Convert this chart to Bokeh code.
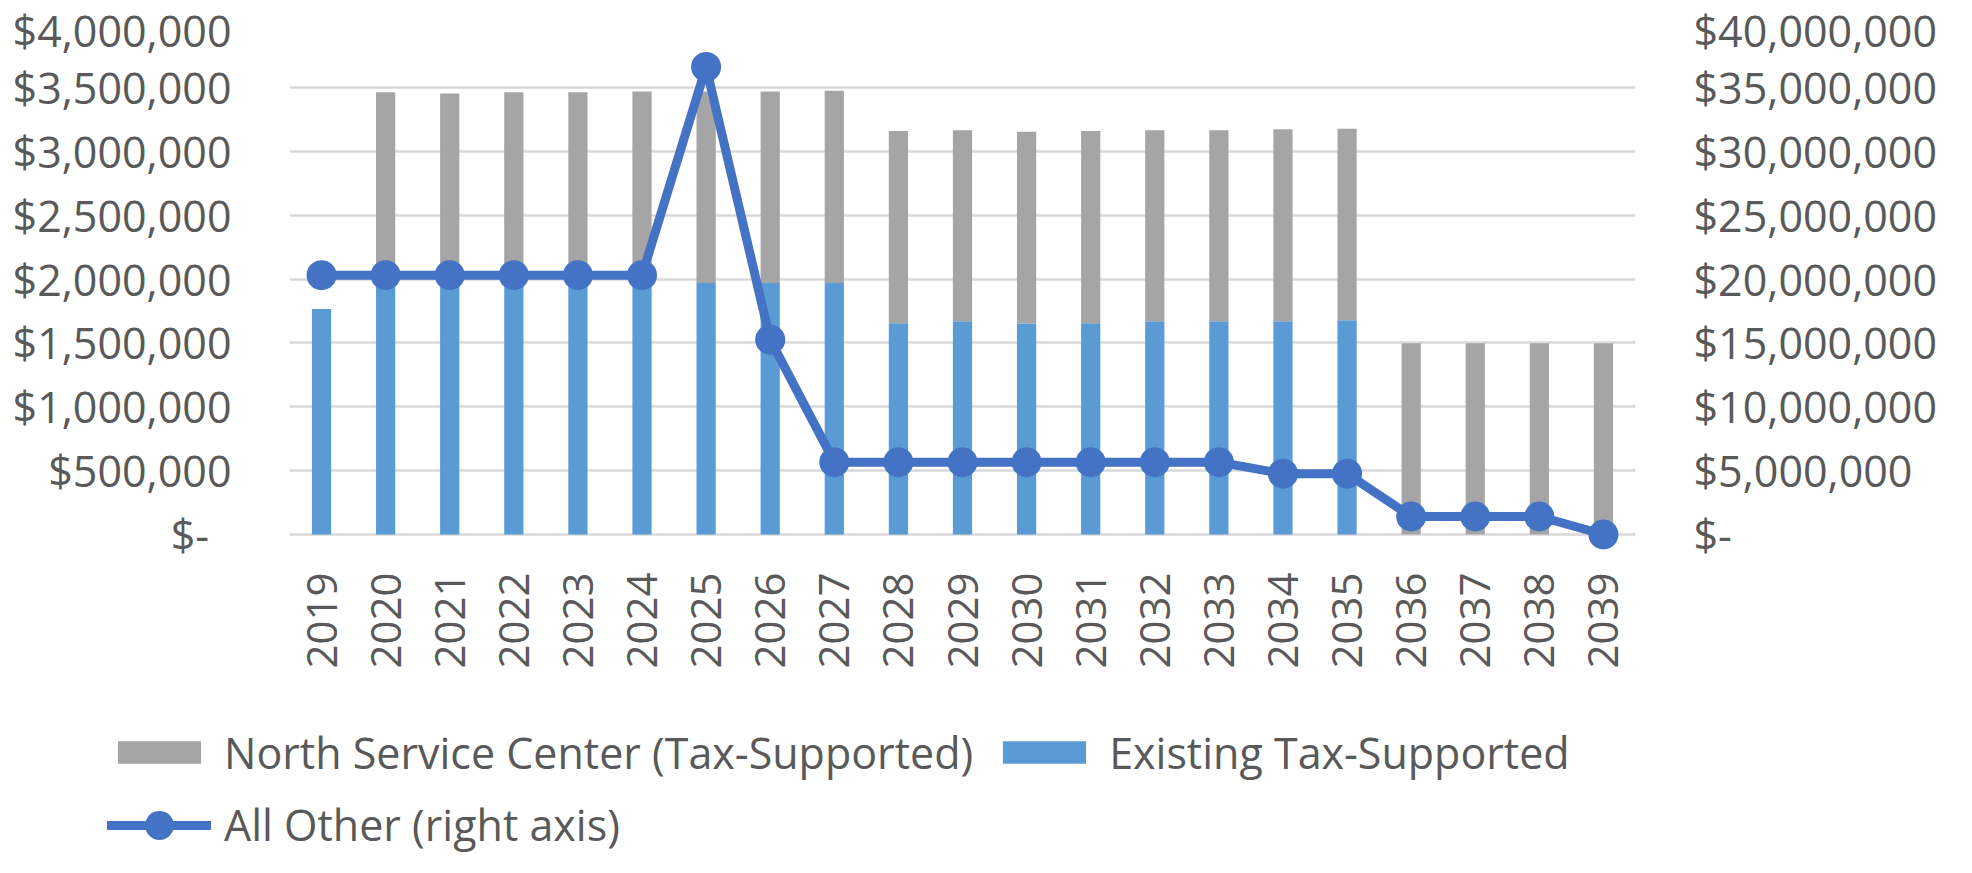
from bokeh.plotting import figure
from bokeh.models import (Range1d, LinearAxis, FixedTicker, CustomJSTickFormatter,
                          Legend, LegendItem, ColumnDataSource)
from bokeh.layouts import column
from bokeh.embed import file_html
from bokeh.resources import INLINE
import math

years = [str(y) for y in range(2019, 2040)]
existing = [1765000, 1968000, 1968000, 1968000, 1968000, 1968000, 1968000, 1968000, 1968000,
            1654000, 1669000, 1651000, 1654000, 1669000, 1669000, 1669000, 1678000,
            0, 0, 0, 0]
north_service = [0, 1493000, 1484000, 1493000, 1493000, 1499000, 1499000, 1499000, 1505000,
                 1504000, 1495000, 1501000, 1504000, 1495000, 1495000, 1504000, 1498000,
                 1498000, 1498000, 1498000, 1498000]
all_other = [20300000, 20300000, 20300000, 20300000, 20300000, 20300000, 36600000, 15250000,
             5660000, 5660000, 5660000, 5660000, 5660000, 5660000, 5660000, 4760000, 4760000,
             1410000, 1410000, 1410000, 0]
left_ticks = [0, 500000, 1000000, 1500000, 2000000, 2500000, 3000000, 3500000, 4000000]
right_ticks = [0, 5000000, 10000000, 15000000, 20000000, 25000000, 30000000, 35000000, 40000000]
labels = ["North Service Center (Tax-Supported)", "Existing Tax-Supported", "All Other (right axis)"]

FONT = "Open Sans"
TXT = "#595959"
FS = "43px"
BLUE_BAR = "#5B9BD5"
GRAY_BAR = "#A5A5A5"
LINE_C = "#4472C4"

src = ColumnDataSource(dict(year=years, existing=existing, north=north_service, other=all_other))

ext_px = 18
frame_h = 511 + ext_px
p = figure(x_range=years, y_range=Range1d(-ext_px * 4000000 / 511, 4000000),
           frame_width=1346, frame_height=frame_h,
           min_border_left=289, min_border_right=321, min_border_top=23, min_border_bottom=140,
           output_backend="svg", toolbar_location=None, background_fill_color="white",
           border_fill_color="white")
p.outline_line_color = None
p.extra_y_ranges = {"right": Range1d(-ext_px * 40000000 / 511, 40000000)}

bars = p.vbar_stack(["existing", "north"], x="year", width=0.30, source=src,
                    color=[BLUE_BAR, GRAY_BAR], line_color=None)
line_r = p.line("year", "other", source=src, y_range_name="right", color=LINE_C,
                line_width=9, line_join="round", line_cap="round")
mark_r = p.scatter("year", "other", source=src, y_range_name="right", size=30,
                   color=LINE_C, line_color=None)

# axes
p.yaxis.ticker = FixedTicker(ticks=left_ticks)
p.yaxis.formatter = CustomJSTickFormatter(code="""
if (tick == 0) { return "$-\u00a0\u00a0"; }
return "$" + Math.round(tick).toLocaleString("en-US");
""")
ra = LinearAxis(y_range_name="right", ticker=FixedTicker(ticks=right_ticks))
ra.formatter = CustomJSTickFormatter(code="""
if (tick == 0) { return "$-"; }
return "$" + Math.round(tick).toLocaleString("en-US");
""")
p.add_layout(ra, "right")

for ax in [p.yaxis[0], ra]:
    ax.axis_line_color = None
    ax.major_tick_line_color = None
    ax.minor_tick_line_color = None
    ax.major_tick_out = 0
    ax.major_tick_in = 0
    ax.major_label_standoff = 58
    ax.major_label_text_font = FONT
    ax.major_label_text_font_size = FS
    ax.major_label_text_color = TXT

xa = p.xaxis[0]
xa.axis_line_color = None
xa.major_tick_line_color = None
xa.minor_tick_line_color = None
xa.major_tick_out = 0
xa.major_tick_in = 0
xa.major_label_standoff = 20
xa.major_label_orientation = math.pi / 2
xa.major_label_text_font = FONT
xa.major_label_text_font_size = "42px"
xa.major_label_text_color = TXT

p.xgrid.grid_line_color = None
p.ygrid.ticker = FixedTicker(ticks=left_ticks)
p.ygrid.grid_line_color = "#D9D9D9"
p.ygrid.grid_line_width = 2.5

# legend figure (below the chart); proxy glyphs lie outside its visible range
QH = 165
q = figure(x_range=Range1d(0, 1), y_range=Range1d(0, 1), frame_width=1956, frame_height=QH,
           min_border=0, x_axis_type=None, y_axis_type=None, output_backend="svg",
           toolbar_location=None, background_fill_color="white", border_fill_color="white")
q.outline_line_color = None
q.grid.visible = False
g_n = q.vbar(x=[-10], top=[-10], bottom=[-11], width=0.3, color=GRAY_BAR, line_color=None)
g_e = q.vbar(x=[-10], top=[-10], bottom=[-11], width=0.3, color=BLUE_BAR, line_color=None)
g_l = q.line(x=[-10, -9], y=[-10, -10], color=LINE_C, line_width=9, line_cap="round")
g_m = q.scatter(x=[-10], y=[-10], size=30, color=LINE_C, line_color=None)

def style(lg, gh):
    lg.label_text_font = FONT
    lg.label_text_font_size = FS
    lg.label_text_color = TXT
    lg.glyph_width = 104
    lg.glyph_height = gh
    lg.label_standoff = 13
    lg.spacing = 19
    lg.padding = 0
    lg.margin = 0
    lg.border_line_color = None
    lg.background_fill_alpha = 0

# q starts at page y 700; row centres at page y ~753 and ~833
H_ITEM = 73
lg1 = Legend(items=[LegendItem(label=labels[0], renderers=[g_n]),
                    LegendItem(label=labels[1], renderers=[g_e])],
             orientation="horizontal", location=(107, QH - (53 + H_ITEM / 2)))
lg2 = Legend(items=[LegendItem(label=labels[2], renderers=[g_l, g_m])],
             orientation="horizontal", location=(107, QH - (132 + H_ITEM / 2)))
style(lg1, 28)
style(lg2, 72)
q.add_layout(lg1, "center")
q.add_layout(lg2, "center")

layout = column(p, q, spacing=0)
open("out.html", "w").write(file_html(layout, INLINE))
